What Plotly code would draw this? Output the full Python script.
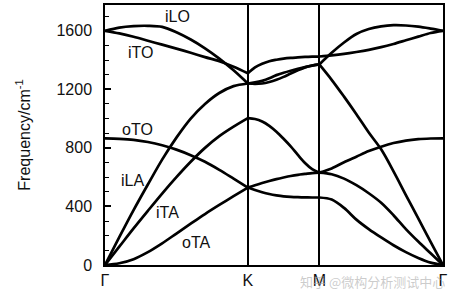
import plotly.graph_objects as go

# high-symmetry path (reduced path length units) and labels
path_ticks = [0.0, 1.0, 1.5, 2.366]
tick_labels = ["Γ", "K", "M", "Γ"]

# fractional position along each segment
t = [0.0, 0.1, 0.2, 0.3, 0.4, 0.5, 0.6, 0.7, 0.8, 0.9, 1.0]

# Γ -> K (cm^-1)
gk_iLO = [1600, 1622, 1632, 1634, 1627, 1590, 1540, 1480, 1410, 1330, 1240]
gk_iTO = [1600, 1582, 1559, 1532, 1505, 1478, 1450, 1420, 1392, 1355, 1310]
gk_iLA = [0, 190, 375, 550, 720, 870, 1000, 1100, 1175, 1222, 1240]
gk_iTA = [0, 125, 250, 370, 488, 600, 705, 800, 880, 945, 1003]
gk_oTO = [865, 862, 855, 840, 818, 788, 750, 705, 650, 590, 529]
gk_oTA = [0, 12, 40, 88, 148, 215, 282, 348, 410, 470, 529]

# K -> M
km_iTO = [1310, 1350, 1375, 1392, 1402, 1410, 1415, 1418, 1421, 1423, 1424]
km_iLO = [1240, 1237, 1240, 1250, 1265, 1285, 1308, 1330, 1350, 1363, 1370]
km_iLA = [1240, 1247, 1258, 1275, 1297, 1313, 1327, 1340, 1352, 1362, 1370]
km_iTA = [1003, 997, 980, 950, 910, 862, 810, 752, 697, 655, 631]
km_oTO = [529, 545, 560, 574, 587, 598, 608, 616, 622, 628, 631]
km_oTA = [529, 512, 497, 485, 476, 469, 465, 463, 462, 461, 461]

# M -> Γ
mg_iTO = [1424, 1432, 1442, 1455, 1470, 1488, 1510, 1535, 1560, 1585, 1600]
mg_iLO = [1370, 1450, 1520, 1578, 1612, 1630, 1638, 1636, 1628, 1615, 1600]
mg_iLA = [1370, 1265, 1150, 1030, 905, 790, 640, 478, 318, 158, 0]
mg_iTA = [631, 620, 590, 545, 490, 425, 340, 245, 160, 80, 0]
mg_oTO = [631, 660, 702, 740, 778, 808, 833, 850, 860, 864, 865]
mg_oTA = [461, 447, 390, 310, 245, 188, 135, 88, 48, 16, 0]

segments = [
    (path_ticks[0], path_ticks[1], [gk_iLO, gk_iTO, gk_iLA, gk_iTA, gk_oTO, gk_oTA]),
    (path_ticks[1], path_ticks[2], [km_iLO, km_iTO, km_iLA, km_iTA, km_oTO, km_oTA]),
    (path_ticks[2], path_ticks[3], [mg_iLO, mg_iTO, mg_iLA, mg_iTA, mg_oTO, mg_oTA]),
]

# branch labels: (text, x, y) in data coordinates
branch_labels = [
    ("iLO", 0.504, 1695),
    ("iTO", 0.245, 1450),
    ("oTO", 0.225, 929),
    ("iLA", 0.19, 577),
    ("iTA", 0.44, 360),
    ("oTA", 0.64, 156),
]

FONT = "Liberation Sans, Arial, sans-serif"

fig = go.Figure()
for x0, x1, branches in segments:
    xs = [x0 + ti * (x1 - x0) for ti in t]
    for vals in branches:
        fig.add_trace(go.Scatter(
            x=xs, y=vals, mode="lines",
            line=dict(color="black", width=2.7, shape="spline", smoothing=0.9),
            showlegend=False, hoverinfo="skip"))

for txt, lx, ly in branch_labels:
    fig.add_annotation(x=lx, y=ly, xref="x", yref="y", text=txt, showarrow=False,
                       font=dict(family=FONT, size=16, color="#111"))

# watermark
fig.add_annotation(x=0.79, y=-0.065, xref="paper", yref="paper",
                   xanchor="center", yanchor="middle",
                   text="知乎 @微构分析测试中心", showarrow=False,
                   font=dict(family="Noto Sans CJK SC", size=13, color="rgba(170,170,170,0.6)"))

fig.update_layout(
    width=459, height=305, autosize=False,
    margin=dict(l=105, r=16, t=3, b=40),
    plot_bgcolor="white", paper_bgcolor="white",
    font=dict(family=FONT, size=16, color="#111"),
    xaxis=dict(range=[path_ticks[0], path_ticks[-1]], tickvals=path_ticks, ticktext=tick_labels,
               showgrid=True, gridcolor="black", gridwidth=2, zeroline=False,
               showline=True, mirror=True, linecolor="black", linewidth=1.5,
               ticks="", tickfont=dict(size=16)),
    yaxis=dict(range=[0, 1776], tickvals=[0, 400, 800, 1200, 1600],
               ticks="inside", ticklen=6, tickwidth=1.5, tickcolor="black",
               minor=dict(dtick=100, ticks="inside", ticklen=4, tickwidth=1.2, tickcolor="black", showgrid=False),
               showgrid=False, zeroline=False,
               showline=True, mirror=True, linecolor="black", linewidth=1.5,
               tickfont=dict(size=16), ticklabelstandoff=8,
               title=dict(text="Frequency/cm<sup>-1</sup>", font=dict(size=16), standoff=22)),
)

fig.write_html("out.html")
